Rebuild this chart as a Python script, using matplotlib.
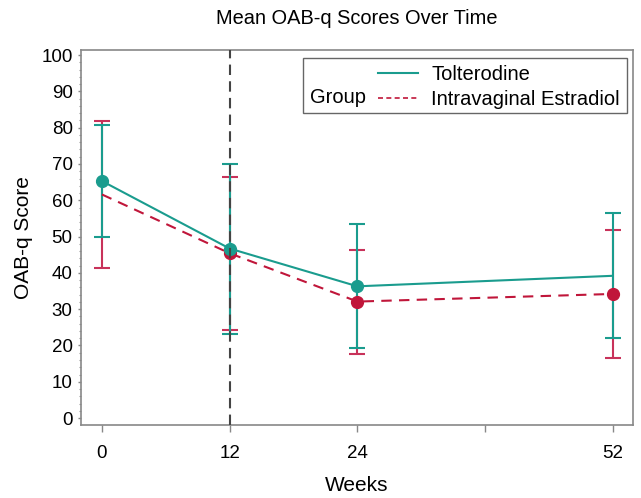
import matplotlib
matplotlib.use("Agg")
import matplotlib.pyplot as plt
from matplotlib.lines import Line2D
from matplotlib.patches import Rectangle

plt.rcParams['font.family'] = ['Liberation Sans', 'DejaVu Sans']

week_labels = ['0', '12', '24', '', '52']
weeks_pos = [0, 1, 2, 4]          # categorical positions of observed weeks

tolt_mean = [65.3, 46.7, 36.3, 39.2]
tolt_low = [50.0, 23.3, 19.3, 22.2]
tolt_high = [80.7, 70.1, 53.5, 56.4]

estr_mean = [61.6, 45.4, 32.1, 34.2]
estr_low = [41.4, 24.3, 17.7, 16.6]
estr_high = [81.9, 66.5, 46.4, 51.7]

teal = '#1a9c8e'
red = '#c0163a'
red_bar = '#c8325a'

fig = plt.figure(figsize=(6.41, 4.98), dpi=100)
ax = fig.add_axes([0.1264, 0.1466, 0.8611, 0.753])

# error bars
ax.errorbar(weeks_pos, estr_mean,
            yerr=[[m - l for m, l in zip(estr_mean, estr_low)],
                  [h - m for m, h in zip(estr_mean, estr_high)]],
            fmt='none', ecolor=red_bar, elinewidth=1.5, capsize=6, capthick=1.5, zorder=2)
ax.errorbar(weeks_pos, tolt_mean,
            yerr=[[m - l for m, l in zip(tolt_mean, tolt_low)],
                  [h - m for m, h in zip(tolt_mean, tolt_high)]],
            fmt='none', ecolor=teal, elinewidth=1.5, capsize=6, capthick=1.5, zorder=2)

# lines
ax.plot(weeks_pos, estr_mean, color=red, lw=1.5, ls=(0, (5, 3.5)),
        marker='o', ms=8.5, markevery=[1, 2, 3], zorder=3)
ax.plot(weeks_pos, tolt_mean, color=teal, lw=1.5, ls='-',
        marker='o', ms=8.5, markevery=[0, 1, 2], zorder=4)

# reference line at week 12
ax.axvline(1, color='#444444', lw=1.5, ls=(0, (5, 3)), zorder=5)

ax.set_xlim(-0.164, 4.157)
ax.set_ylim(-1.9, 101.4)
ax.set_xticks(range(len(week_labels)))
ax.set_xticklabels(week_labels)
ax.set_yticks(range(0, 101, 10))
ax.set_yticks(range(0, 101, 2), minor=True)
ax.tick_params(axis='both', which='major', labelsize=13.5, color='#888888', width=1)
ax.tick_params(axis='x', which='major', length=5, pad=9.5)
ax.tick_params(axis='y', which='major', length=2.5, pad=3.5)
ax.tick_params(axis='y', which='minor', color='#999999', length=1.6, width=0.8)
for s in ax.spines.values():
    s.set_color('#888888')
    s.set_linewidth(1.2)

ax.set_xlabel('Weeks', fontsize=15, labelpad=10)
ax.set_ylabel('OAB-q Score', fontsize=15, labelpad=6)
ax.set_title('Mean OAB-q Scores Over Time', fontsize=14.4, pad=19)

# legend
ax.add_patch(Rectangle((0.402, 0.832), 0.587, 0.147, transform=ax.transAxes,
                       fill=False, edgecolor='#666666', lw=1, zorder=6))
handles = [Line2D([], [], color=teal, lw=1.5),
           Line2D([], [], color=red, lw=1.2, ls=(0, (3, 2)))]
leg = ax.legend(handles, ['Tolterodine', 'Intravaginal Estradiol'],
                loc='upper left', bbox_to_anchor=(0.538, 0.959), frameon=False,
                fontsize=14.5, handlelength=2.0, handletextpad=0.65, labelspacing=0.27,
                borderaxespad=0, borderpad=0)
ax.text(0.415, 0.872, 'Group', transform=ax.transAxes, fontsize=14.5, va='center', ha='left')

fig.savefig('out.png', dpi=100)
